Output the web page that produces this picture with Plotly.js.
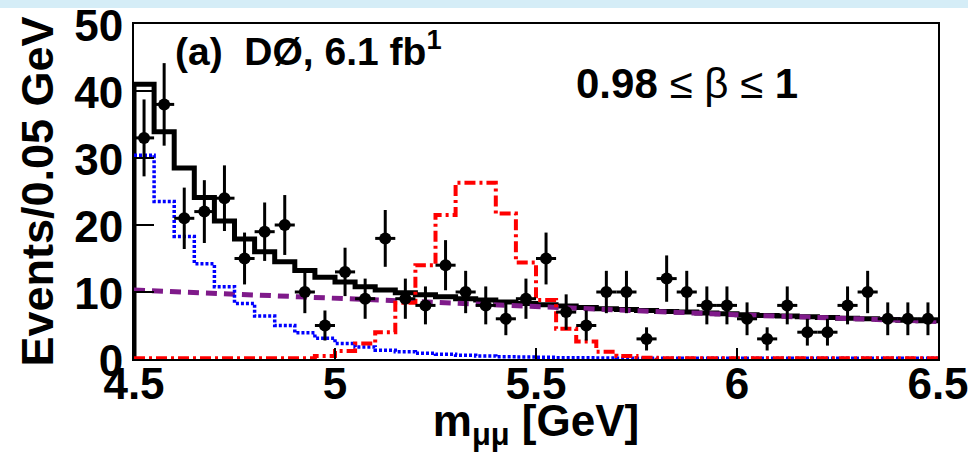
<!DOCTYPE html>
<html>
<head>
<meta charset="utf-8">
<script src="https://cdn.plot.ly/plotly-3.0.1.min.js"></script>
<style>
  html, body { margin: 0; padding: 0; background: #ffffff; }
  #chart { width: 968px; height: 452px; }
</style>
</head>
<body>
<div id="chart"></div>
<script>
// Bin centres of the 0.05 GeV bins (GeV)
const binCenters = [4.525, 4.575, 4.625, 4.675, 4.725, 4.775, 4.825, 4.875, 4.925, 4.975,
                    5.025, 5.075, 5.125, 5.175, 5.225, 5.275, 5.325, 5.375, 5.425, 5.475,
                    5.525, 5.575, 5.625, 5.675, 5.725, 5.775, 5.825, 5.875, 5.925, 5.975,
                    6.025, 6.075, 6.125, 6.175, 6.225, 6.275, 6.325, 6.375, 6.425, 6.475];
const binHalfWidth = 0.025;

// Data: events per bin and their error bars
const dataCounts = [33, 38, 21, 22, 24, 15, 19, 20, 10, 5,
                    13, 9, 18, 9, 8, 14, 10, 8, 6, 9,
                    15, 7, 5, 10, 10, 3, 12, 10, 8, 8,
                    6, 3, 8, 4, 4, 8, 10, 6, 6, 6];
const dataErrors = [5.74, 6.16, 4.58, 4.69, 4.90, 3.87, 4.36, 4.47, 3.16, 2.24,
                    3.61, 3.00, 4.24, 3.00, 2.83, 3.74, 3.16, 2.83, 2.45, 3.00,
                    3.87, 2.65, 2.24, 3.16, 3.16, 1.73, 3.46, 3.16, 2.83, 2.83,
                    2.45, 1.73, 2.83, 2.00, 2.00, 2.83, 3.16, 2.45, 2.45, 2.45];

// Total fit (black solid histogram)
const totalFit = [41.0, 33.9, 28.5, 24.1, 20.6, 17.9, 16.0, 14.5, 13.2, 12.2,
                  11.5, 10.8, 10.3, 9.9, 9.6, 9.3, 9.0, 8.8, 8.5, 8.3,
                  8.1, 7.9, 7.7, 7.5, 7.4, 7.25, 7.1, 7.0, 6.85, 6.75,
                  6.6, 6.5, 6.4, 6.3, 6.2, 6.1, 6.0, 5.9, 5.8, 5.7];

// Low-mass component (blue dotted histogram)
const lowMassComp = [30.4, 23.5, 18.3, 14.2, 10.8, 8.3, 6.4, 5.0, 3.9, 3.1,
                     2.3, 1.8, 1.3, 1.1, 0.85, 0.7, 0.55, 0.45, 0.35, 0.3,
                     0.25, 0.2, 0.18, 0.15, 0.12, 0.12, 0.1, 0.1, 0.1, 0.1,
                     0.1, 0.1, 0.1, 0.1, 0.1, 0.1, 0.1, 0.1, 0.1, 0.1];

// Signal shape (red dash-dot histogram)
const signalShape = [0.1, 0.1, 0.1, 0.1, 0.1, 0.1, 0.1, 0.1, 0.1, 0.45,
                     1.2, 2.3, 4.0, 8.4, 14.0, 21.5, 26.3, 26.3, 21.7, 14.4,
                     8.8, 4.5, 2.6, 1.1, 0.45, 0.2, 0.1, 0.1, 0.1, 0.1,
                     0.1, 0.1, 0.1, 0.1, 0.1, 0.1, 0.1, 0.1, 0.1, 0.1];

// Combinatorial background (purple dashed curve)
const bkgX = [4.5, 4.9, 5.4, 5.6, 6.0, 6.5];
const bkgY = [10.3, 9.3, 8.0, 7.5, 6.6, 5.6];

const xTickVals = [4.5, 5, 5.5, 6, 6.5];
const xTickText = ['4.5', '5', '5.5', '6', '6.5'];
const yTickVals = [0, 10, 20, 30, 40, 50];

// Build step-histogram outlines from bin centres
function stepTrace(values, startFromZero) {
  const xs = [], ys = [];
  if (startFromZero) { xs.push(binCenters[0] - binHalfWidth); ys.push(0); }
  for (let i = 0; i < binCenters.length; i++) {
    xs.push(binCenters[i] - binHalfWidth); ys.push(values[i]);
  }
  xs.push(binCenters[binCenters.length - 1] + binHalfWidth);
  ys.push(values[values.length - 1]);
  return { x: xs, y: ys };
}

const FONT = 'Liberation Sans, Arial, Helvetica, sans-serif';

const sTot = stepTrace(totalFit, true);
const sLow = stepTrace(lowMassComp, false);
const sSig = stepTrace(signalShape, false);

const traces = [
  { type: 'scatter', mode: 'lines', x: sTot.x, y: sTot.y,
    line: { shape: 'hv', color: '#000000', width: 5 }, hoverinfo: 'skip', showlegend: false },
  { type: 'scatter', mode: 'lines', x: bkgX, y: bkgY,
    line: { color: '#7f1a8a', width: 5, dash: '11px,7px' }, hoverinfo: 'skip', showlegend: false },
  { type: 'scatter', mode: 'lines', x: sLow.x, y: sLow.y,
    line: { shape: 'hv', color: '#0000ff', width: 3.5, dash: '3px,2px' }, hoverinfo: 'skip', showlegend: false },
  { type: 'scatter', mode: 'lines', x: sSig.x, y: sSig.y,
    line: { shape: 'hv', color: '#ff0000', width: 4, dash: '11px,4px,3px,4px' }, hoverinfo: 'skip', showlegend: false },
  { type: 'scatter', mode: 'markers', x: binCenters, y: dataCounts,
    marker: { symbol: 'circle', size: 12, color: '#000000' },
    error_y: { type: 'data', array: dataErrors, visible: true, color: '#000000', thickness: 3, width: 0 },
    error_x: { type: 'constant', value: binHalfWidth, visible: true, color: '#000000', thickness: 3, width: 0 },
    showlegend: false }
];

const layout = {
  width: 968, height: 452,
  margin: { l: 134, r: 30, t: 24, b: 93 },
  paper_bgcolor: '#ffffff', plot_bgcolor: '#ffffff',
  showlegend: false,
  font: { family: FONT, color: '#000000' },
  xaxis: {
    range: [4.5, 6.5], tickvals: xTickVals, ticktext: xTickText,
    ticks: 'inside', ticklen: 11, tickwidth: 2, tickcolor: '#000000',
    showline: true, linewidth: 2, linecolor: '#000000', mirror: true,
    showgrid: false, zeroline: false, ticklabeloverflow: 'allow',
    ticklabelstandoff: -15,
    tickfont: { family: FONT, size: 44, weight: 700, color: '#000000' },
    title: { text: 'm<sub>μμ</sub> [GeV]', font: { family: FONT, size: 44, weight: 700, color: '#000000' }, standoff: 0 }
  },
  yaxis: {
    range: [0, 50], tickvals: yTickVals,
    ticks: 'inside', ticklen: 20, tickwidth: 2, tickcolor: '#000000',
    showline: true, linewidth: 2, linecolor: '#000000', mirror: true,
    showgrid: false, zeroline: false, ticklabeloverflow: 'allow',
    ticklabelshift: 2,
    tickfont: { family: FONT, size: 44, weight: 700, color: '#000000' },
    title: { text: 'Events/0.05 GeV', font: { family: FONT, size: 45, weight: 700, color: '#000000' }, standoff: 6 }
  },
  shapes: [
    { type: 'rect', xref: 'paper', yref: 'paper', x0: -0.17, x1: 1.04, y0: 1.0478, y1: 1.08,
      fillcolor: '#d5edf7', line: { width: 0 }, layer: 'below' }
  ],
  annotations: [
    { xref: 'paper', yref: 'paper', x: 0.048, y: 0.927, xanchor: 'left', yanchor: 'middle',
      showarrow: false, text: '<b>(a)  DØ, 6.1 fb<sup>1</sup></b>',
      font: { family: FONT, size: 39, color: '#000000' } },
    { xref: 'paper', yref: 'paper', x: 0.688, y: 0.821, xanchor: 'center', yanchor: 'middle',
      showarrow: false, text: '<b>0.98</b> ≤ β ≤ <b>1</b>',
      font: { family: FONT, size: 42, color: '#000000' } }
  ]
};

Plotly.newPlot('chart', traces, layout, { displayModeBar: false, staticPlot: true });
</script>
</body>
</html>
